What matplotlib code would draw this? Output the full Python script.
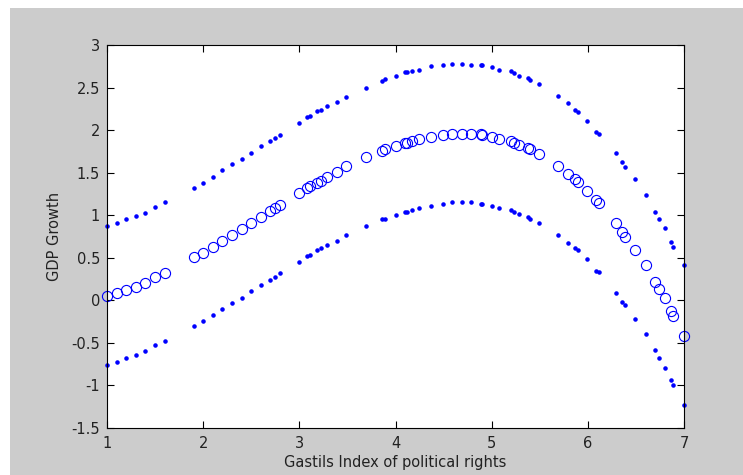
import matplotlib
matplotlib.use("Agg")
from matplotlib import pyplot as plt
from matplotlib.patches import Rectangle

plt.rcParams.update({
    "font.family": ["DejaVu Sans"],
    "font.size": 10.5,
})

# Gastil index values (shared by all three series)
gastil = [1.0, 1.1, 1.2, 1.3, 1.4, 1.5, 1.6,
          1.9, 2.0, 2.1, 2.2, 2.3, 2.4, 2.5, 2.6, 2.7, 2.75, 2.8,
          3.0, 3.08, 3.11, 3.18, 3.23, 3.29, 3.39, 3.49, 3.69,
          3.86, 3.89, 4.0, 4.1, 4.12, 4.17, 4.24, 4.37, 4.49, 4.59, 4.69, 4.79, 4.89, 4.9,
          5.0, 5.08, 5.2, 5.23, 5.28, 5.38, 5.4, 5.49,
          5.69, 5.79, 5.87, 5.9, 5.99, 6.09, 6.12,
          6.29, 6.36, 6.39, 6.49, 6.6, 6.7, 6.74, 6.8, 6.86, 6.89, 7.0]

growth = [0.05, 0.09, 0.12, 0.16, 0.20, 0.27, 0.32,
          0.51, 0.56, 0.63, 0.70, 0.77, 0.84, 0.91, 0.98, 1.05, 1.08, 1.12,
          1.26, 1.32, 1.34, 1.38, 1.40, 1.45, 1.51, 1.58, 1.68,
          1.76, 1.78, 1.81, 1.85, 1.85, 1.87, 1.89, 1.92, 1.94, 1.955, 1.955, 1.955, 1.95, 1.94,
          1.92, 1.90, 1.87, 1.85, 1.83, 1.79, 1.78, 1.72,
          1.58, 1.49, 1.42, 1.39, 1.29, 1.18, 1.14,
          0.91, 0.80, 0.75, 0.59, 0.42, 0.22, 0.13, 0.03, -0.13, -0.18, -0.42]

upper = [0.87, 0.91, 0.95, 0.99, 1.03, 1.10, 1.15,
         1.32, 1.38, 1.45, 1.53, 1.60, 1.66, 1.73, 1.81, 1.87, 1.91, 1.94,
         2.08, 2.15, 2.17, 2.22, 2.24, 2.28, 2.33, 2.39, 2.50,
         2.58, 2.60, 2.64, 2.68, 2.68, 2.70, 2.71, 2.75, 2.77, 2.78, 2.78, 2.77, 2.77, 2.77,
         2.74, 2.71, 2.69, 2.67, 2.64, 2.61, 2.59, 2.54,
         2.40, 2.32, 2.24, 2.21, 2.11, 1.98, 1.96,
         1.73, 1.62, 1.57, 1.42, 1.24, 1.04, 0.95, 0.85, 0.69, 0.63, 0.41]

lower = [-0.76, -0.72, -0.68, -0.64, -0.60, -0.53, -0.48,
         -0.30, -0.24, -0.17, -0.10, -0.03, 0.03, 0.11, 0.18, 0.24, 0.28, 0.32,
         0.45, 0.52, 0.53, 0.59, 0.61, 0.65, 0.70, 0.77, 0.87,
         0.95, 0.96, 1.00, 1.04, 1.04, 1.06, 1.08, 1.11, 1.13, 1.15, 1.15, 1.15, 1.13, 1.13,
         1.11, 1.09, 1.06, 1.04, 1.02, 0.98, 0.96, 0.91,
         0.77, 0.67, 0.61, 0.59, 0.48, 0.35, 0.33,
         0.09, -0.02, -0.06, -0.22, -0.39, -0.58, -0.68, -0.79, -0.94, -1.00, -1.23]

fig = plt.figure(figsize=(7.43, 4.75), dpi=100, facecolor="white")
# matlab style grey window with a thin white edge on top/left
fig.patches.append(Rectangle((10 / 743, 0), 1, 1 - 8 / 475, transform=fig.transFigure,
                             facecolor="#cccccc", edgecolor="none", zorder=-10))

ax = fig.add_axes([107 / 743, 1 - 428 / 475, (684 - 107) / 743, (428 - 45) / 475])
ax.set_facecolor("white")
ax.plot(gastil, upper, ".", color="blue", markersize=4.5, clip_on=False)
ax.plot(gastil, lower, ".", color="blue", markersize=4.5, clip_on=False)
ax.plot(gastil, growth, "o", color="blue", markerfacecolor="none",
        markersize=7.3, markeredgewidth=0.8, clip_on=False)

ax.set_xlim(1, 7)
ax.set_ylim(-1.5, 3)
ax.set_xticks([1, 2, 3, 4, 5, 6, 7])
ax.set_yticks([-1.5, -1, -0.5, 0, 0.5, 1, 1.5, 2, 2.5, 3])
ax.set_yticklabels(["-1.5", "-1", "-0.5", "0", "0.5", "1", "1.5", "2", "2.5", "3"])
ax.tick_params(direction="in", top=True, right=True, length=5, width=0.8,
               labelcolor="#222222")
ax.tick_params(axis="x", pad=6)
ax.tick_params(axis="y", pad=5)
for s in ax.spines.values():
    s.set_linewidth(0.8)
ax.set_xlabel("Gastils Index of political rights", labelpad=3, color="#222222")
ax.set_ylabel("GDP Growth", labelpad=7, color="#222222")

fig.savefig("out.png", dpi=100, facecolor=fig.get_facecolor())
